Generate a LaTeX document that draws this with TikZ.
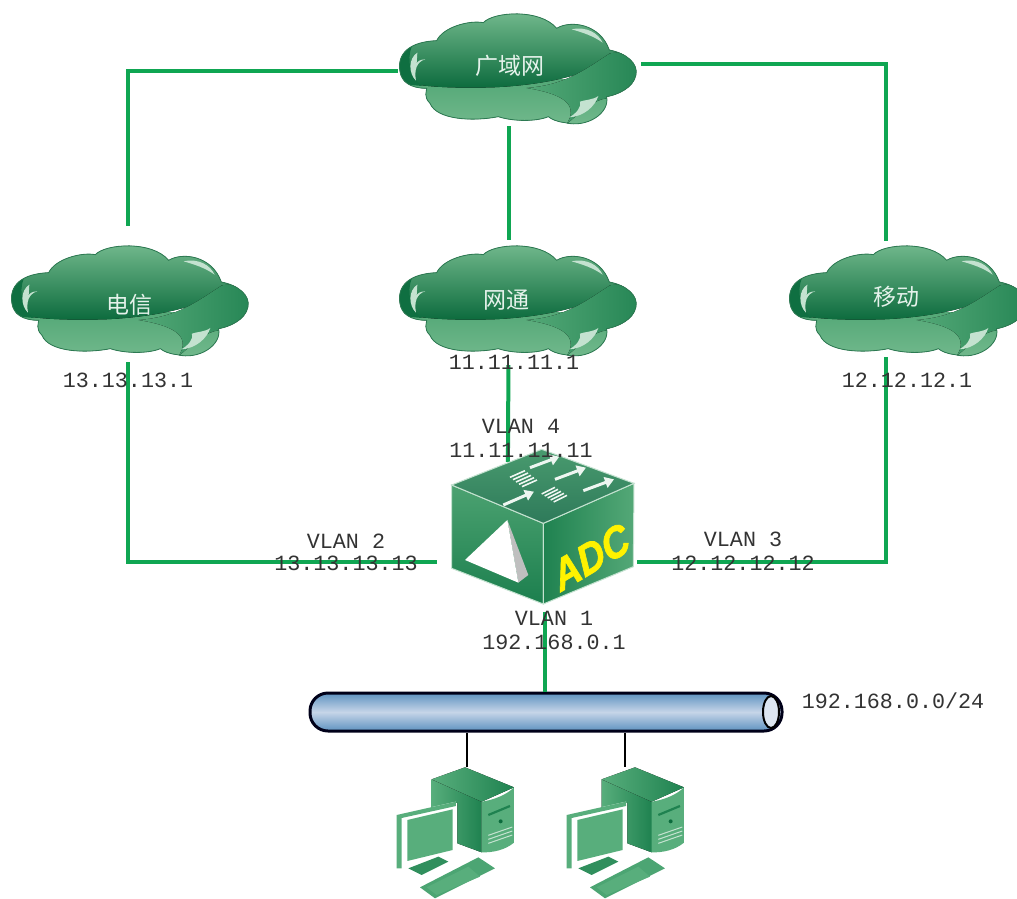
\documentclass[tikz,border=0pt]{standalone}
\usepackage{fontspec}
\setmainfont{Liberation Sans}
\setmonofont{Liberation Mono}
\newfontfamily\cjk{Noto Sans CJK SC}
\newfontfamily\adcfont[FakeBold=1.6]{Liberation Sans Bold Italic}
\usetikzlibrary{arrows.meta,calc}
\definecolor{linkgreen}{HTML}{0FA652}
\definecolor{cloudlight}{HTML}{74BA8E}
\definecolor{clouddark}{HTML}{0C6B3D}
\definecolor{cloudlow}{HTML}{54A877}
\definecolor{cloudswoosh}{HTML}{1C7F4E}
\definecolor{cloudedge}{HTML}{2C7A52}
\definecolor{pcmid}{HTML}{58AE7C}
\definecolor{pcdark}{HTML}{1F8250}
\definecolor{shine}{HTML}{C4E2D0}
\definecolor{busedge}{HTML}{5E92C0}
\definecolor{busmid}{HTML}{C6D5E8}
\definecolor{adctop}{HTML}{2E7A5A}
\newcommand{\cloudoutline}{(60,215)
 .. controls (50,160) and (90,125) .. (170,122)
 .. controls (190,80) and (270,60) .. (310,68)
 .. controls (340,35) and (480,25) .. (530,85)
 .. controls (570,60) and (660,70) .. (688,150)
 .. controls (740,160) and (775,190) .. (768,225)
 .. controls (760,265) and (710,285) .. (680,290)
 .. controls (690,340) and (620,385) .. (555,368)
 .. controls (530,365) and (515,358) .. (505,350)
 .. controls (470,365) and (400,365) .. (355,350)
 .. controls (280,365) and (170,360) .. (150,310)
 .. controls (130,290) and (140,275) .. (140,265)
 .. controls (90,265) and (65,245) .. (60,215) -- cycle}
\newcommand{\cloudart}[2]{%
 \begin{scope}[shift={(#1,#2)},scale=0.3333]
  \begin{scope}
   \clip \cloudoutline;
   \fill[top color=cloudlow,bottom color=cloudlight] (40,240) rectangle (790,390);
   \fill[top color=cloudlight,middle color=cloudlight!93!clouddark,bottom color=clouddark] (40,30) -- (790,30) -- (790,150)
     .. controls (690,180) and (600,250) .. (340,262)
     .. controls (220,265) and (120,262) .. (40,240) -- cycle;
   \fill[left color=cloudlow,right color=cloudswoosh!85!cloudlow] (790,150) -- (790,300) -- (680,295)
     .. controls (640,300) and (610,330) .. (560,372)
     .. controls (600,310) and (540,280) .. (440,264)
     .. controls (560,255) and (620,205) .. (690,160) -- cycle;
   \fill[clouddark!80!cloudswoosh] (40,140) -- (95,140) .. controls (80,180) and (90,230) .. (125,258) -- (40,250) -- cycle;
  \end{scope}
  \fill[shine] (112,158) .. controls (85,175) and (85,220) .. (108,242)
     .. controls (102,210) and (110,185) .. (136,178) .. controls (120,178) and (112,185) .. (110,190) -- cycle;
  \fill[shine] (575,88) .. controls (620,78) and (655,100) .. (668,128)
     .. controls (640,108) and (610,98) .. (575,88) -- cycle;
  \fill[shine] (568,352) .. controls (610,350) and (645,320) .. (655,288)
     .. controls (640,300) and (610,300) .. (600,305)
     .. controls (605,320) and (590,340) .. (568,352) -- cycle;
  \draw[cloudedge,line width=.8pt] \cloudoutline;
 \end{scope}}
\newcommand{\pcart}[2]{%
 \begin{scope}[shift={(#1,#2)},scale=0.3333]
  \fill[left color=pcmid,right color=pcdark] (155,298) -- (305,365) -- (305,517) -- (232,490) -- (232,368) -- (155,385) -- cycle;
  \fill[left color=pcmid,right color=pcdark] (155,298) -- (255,262) -- (402,322) -- (305,365) -- cycle;
  \fill[pcmid] (305,365) .. controls (340,360) and (380,345) .. (402,322) -- (402,488) .. controls (375,510) and (340,518) .. (305,517) -- cycle;
  \draw[pcdark,line width=2.2pt] (325,405) -- (390,378);
  \fill[clouddark] (362,424) circle (6);
  \foreach \d in {0,12,24}{\draw[shine,line width=1pt] (325,466+\d) -- (397,441+\d);}
  \fill[white] (50,405) -- (228,365) -- (228,490) -- (82,560) -- (50,565) -- cycle;
  \fill[pcmid] (50,405) -- (228,365) -- (228,378) -- (65,414) -- (65,565) -- (50,565) -- cycle;
  \fill[pcmid] (82,420) -- (218,388) -- (218,510) -- (82,543) -- cycle;
  \fill[pcdark!70!pcmid] (85,565) -- (175,530) -- (205,545) -- (125,585) -- cycle;
  \fill[pcmid!80!pcdark] (120,622) -- (295,532) -- (345,565) -- (165,655) -- cycle;
  \fill[pcmid] (140,622) -- (265,560) -- (300,590) -- (170,645) -- cycle;
 \end{scope}}
\tikzset{
 link/.style={draw=linkgreen,line width=4pt},
 lan/.style={draw=black,line width=2pt},
 addr/.style={font=\ttfamily\fontsize{21.7}{24}\selectfont,text=black!80,inner sep=0pt},
 cloudbox/.style={inner sep=0pt,minimum height=108pt},
 cloudname/.style={font=\cjk\fontsize{23}{26}\selectfont,text=white!85!cloudlow,inner sep=0pt},
 busbar/.style={draw=black!90!blue,line width=3pt,rounded corners=18pt,top color=busedge,bottom color=busedge,middle color=busmid,minimum width=472pt,minimum height=38pt,inner sep=0pt},
 adcface/.style={line width=1pt,draw=shine},
 topmark/.style={draw=white!90!cloudlow,line width=3pt,-{Triangle[width=11pt,length=9pt]}},
 stripe/.style={draw=white!90!cloudlow,line width=1.6pt},
 adcword/.style={font=\adcfont\fontsize{44}{46}\selectfont,xscale=.85,rotate=27,inner sep=0pt},
}
\begin{document}
\begin{tikzpicture}[x=1pt,y=-1pt]
\clip (0,0) rectangle (1017,898);
\fill[white] (0,0) rectangle (1017,898);
% cloud artwork
\cloudart{380}{0}
\cloudart{-8}{232}
\cloudart{380}{232}
\cloudart{770}{232}
% named nodes
\node[cloudbox,minimum width=239pt,minimum height=110pt] (wan) at (517.5,67) {};
\node[cloudbox,minimum width=236pt] (dx) at (128,299) {};
\node[cloudbox,minimum width=239pt] (wt) at (517.5,299) {};
\node[cloudbox,minimum width=238pt] (yd) at (907,299) {};
\node[cloudname] (wanname) at (510,66) {广域网};
\node[cloudname] (dxname) at (129,305) {电信};
\node[cloudname] (wtname) at (506,300) {网通};
\node[cloudname] (ydname) at (896,297) {移动};
\node[inner sep=0pt,minimum width=182pt,minimum height=157pt] (adc) at (543,525.5) {};
\node[busbar] (bus) at (546,712) {};
\fill[busmid!60!white] (771,712) ellipse (8 and 16);
\draw[black,line width=2pt] (771,712) ellipse (8 and 16);
\node[inner sep=0pt,minimum width=119pt,minimum height=131pt] (pc1) at (455.5,832.5) {};
\node[inner sep=0pt,minimum width=118pt,minimum height=131pt] (pc2) at (626,832.5) {};
% connectors
\draw[link,shorten <=19pt] (dx.north) |- ([yshift=-4pt]wan.west);
\draw[link,shorten <=4pt,shorten >=4pt] ([yshift=3pt]wan.east) -| ([xshift=-21pt]yd.north);
\draw[link,shorten <=4pt,shorten >=5pt] ([xshift=-9pt]wan.south) -- ([xshift=-9pt]wt.north);
\draw[link,shorten <=9pt,shorten >=15pt] (dx.south) |- ([yshift=-36.5pt]adc.west);
\draw[link,shorten <=12pt,shorten >=-15pt] ([xshift=-9pt]wt.south) -- ([xshift=-35pt]adc.north);
\draw[link,shorten <=4pt,shorten >=3pt] ([xshift=-21pt]yd.south) |- ([yshift=-36pt]adc.east);
\draw[link,shorten <=8pt] ([xshift=2pt]adc.south) -- ([xshift=2pt]adc.south |- bus.north);
\draw[lan] ([xshift=11.5pt]pc1.north) -- ([xshift=11.5pt]pc1.north |- bus.south);
\draw[lan] ([xshift=-1pt]pc2.north) -- ([xshift=-1pt]pc2.north |- bus.south);
% ADC artwork
\begin{scope}[shift={(430,400)},scale=0.3333]
 \shade[adcface,top color=cloudlow!85!cloudswoosh,bottom color=cloudswoosh] (65,255) -- (340,370) -- (340,612) -- (65,505) -- cycle;
 \shade[adcface,left color=pcdark,right color=cloudlow] (340,370) -- (612,250) -- (610,500) -- (340,612) -- cycle;
 \shade[adcface,top color=cloudlow!70!adctop,bottom color=adctop] (65,255) -- (335,148) -- (612,250) -- (340,370) -- cycle;
 \draw[topmark] (220,315) -- (312,275);
 \draw[topmark] (300,203) -- (388,170);
 \draw[topmark] (375,238) -- (468,203);
 \draw[topmark] (460,272) -- (552,238);
 \foreach \k in {0,...,4}{\draw[stripe] (240+\k*9,232+\k*7) -- (285+\k*9,212+\k*7);}
 \foreach \k in {0,...,4}{\draw[stripe] (335+\k*9,282+\k*6) -- (375+\k*9,262+\k*6);}
 \fill[black!25] (232,360) -- (295,525) -- (265,548) -- cycle;
 \fill[white] (105,480) -- (232,360) -- (265,548) -- cycle;
\end{scope}
\node[adcword,text=yellow] (adcname) at (591,557) {ADC};
% addresses
\node[addr] (a1) at (128,380) {13.13.13.1};
\node[addr] (a2) at (514,362) {11.11.11.1};
\node[addr] (a3) at (907,380) {12.12.12.1};
\node[addr] (v4) at (521,426) {VLAN 4};
\node[addr] (i4) at (521,450) {11.11.11.11};
\node[addr] (v2) at (346,541) {VLAN 2};
\node[addr] (i2) at (346,563) {13.13.13.13};
\node[addr] (v3) at (743,539) {VLAN 3};
\node[addr] (i3) at (743,563) {12.12.12.12};
\node[addr] (v1) at (554,618) {VLAN 1};
\node[addr] (i1) at (554,642) {192.168.0.1};
\node[addr] (net) at (893,701) {192.168.0.0/24};
% computers
\pcart{380}{680}
\pcart{550}{680}
\end{tikzpicture}
\end{document}
